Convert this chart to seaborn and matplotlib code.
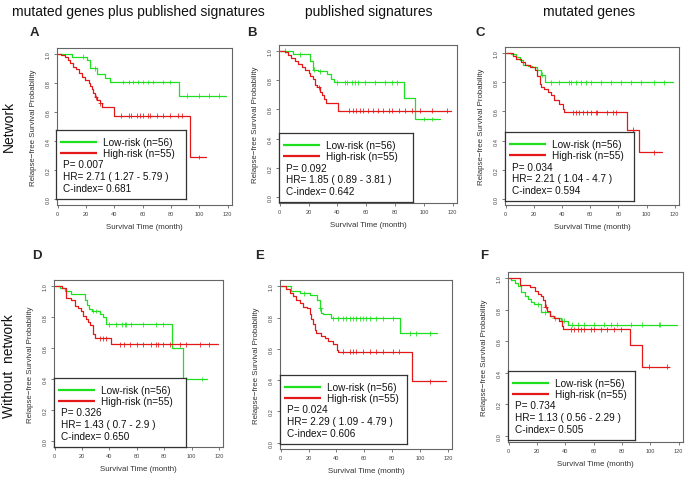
import numpy as np
import pandas as pd
import matplotlib
matplotlib.use("Agg")
import matplotlib.pyplot as plt
import seaborn as sns

sns.set_theme(style="white")
plt.rcParams["font.family"] = ["Liberation Sans", "DejaVu Sans"]

# ---- data (event times in months, survival after each event) ----
A_LOW_TIME = [10, 21, 22.5, 27.6, 33.5, 37, 85.6]
A_LOW_SURV = [0.98, 0.96, 0.90, 0.86, 0.835, 0.806, 0.712]
A_LOW_CENS = [18, 26, 46, 50, 53, 57, 60, 64, 67, 74, 79, 91, 100, 107, 114]
A_LOW_END = 119
A_HIGH_TIME = [2, 5, 7, 9, 11, 13, 15, 17, 19, 22, 23, 24, 25, 26.5, 28, 30, 31, 40, 93.6]
A_HIGH_SURV = [0.99, 0.975, 0.96, 0.94, 0.91, 0.895, 0.87, 0.84, 0.82, 0.80, 0.78, 0.76, 0.73,
               0.70, 0.68, 0.66, 0.635, 0.575, 0.29]
A_HIGH_CENS = [27, 30, 45, 50, 52, 56, 58, 60, 64, 65, 70, 74, 79, 85, 88, 100]
A_HIGH_END = 105

B_LOW_TIME = [9, 21, 23, 26.5, 33, 35.4, 37.8, 86.2, 94]
B_LOW_SURV = [0.977, 0.93, 0.87, 0.86, 0.84, 0.81, 0.786, 0.675, 0.534]
B_LOW_CENS = [4, 14, 24, 28, 40, 45, 47, 50, 52, 54, 59, 66, 73, 78, 81.5, 100, 106]
B_LOW_END = 111.5
B_HIGH_TIME = [3.5, 6, 8, 10.6, 13, 15.4, 17.7, 20, 21, 23, 24.8, 26, 28, 29, 30.7, 32, 40.6]
B_HIGH_SURV = [0.99, 0.975, 0.95, 0.93, 0.91, 0.89, 0.87, 0.85, 0.83, 0.81, 0.77, 0.75, 0.72,
               0.70, 0.67, 0.645, 0.59]
B_HIGH_CENS = [27, 48, 51, 53, 55.5, 58, 61, 65, 68.5, 72, 75.6, 78, 82.7, 87, 92, 97, 106, 116]
B_HIGH_END = 119

C_LOW_TIME = [4, 7, 10, 12, 16, 19, 22.4, 24.8, 28]
C_LOW_SURV = [0.99, 0.97, 0.95, 0.92, 0.91, 0.90, 0.88, 0.85, 0.80]
C_LOW_CENS = [26, 32, 38, 45, 46.5, 50, 53.5, 57, 60.6, 67.7, 74.7, 81.8, 88.8, 96, 105, 112]
C_LOW_END = 119
C_HIGH_TIME = [5, 7.5, 11, 13.4, 17, 20.5, 22.4, 24, 25.2, 27, 30, 31.8, 34.6, 37.5, 40.5, 41.7,
               85.8, 94.3]
C_HIGH_SURV = [0.98, 0.96, 0.94, 0.92, 0.90, 0.88, 0.84, 0.79, 0.77, 0.75, 0.73, 0.71, 0.68, 0.65,
               0.615, 0.595, 0.476, 0.32]
C_HIGH_CENS = [47.6, 50, 52, 54.7, 58, 60.6, 64, 65, 72, 76, 78, 90, 105]
C_HIGH_END = 111

D_LOW_TIME = [3.7, 7.3, 12, 22, 23.7, 25, 27.5, 33, 35.4, 37.8, 85.9, 94]
D_LOW_SURV = [0.99, 0.97, 0.95, 0.91, 0.88, 0.855, 0.84, 0.82, 0.80, 0.753, 0.60, 0.40]
D_LOW_CENS = [28, 30, 40, 45, 49, 51.2, 52.4, 56, 64.6, 74.4, 79.3, 96, 108]
D_LOW_END = 111.5
D_HIGH_TIME = [5, 8.5, 11.7, 14.6, 17, 19, 20.7, 22.7, 24.4, 26, 28, 29.3, 41.5]
D_HIGH_SURV = [0.99, 0.923, 0.91, 0.87, 0.86, 0.84, 0.81, 0.79, 0.77, 0.75, 0.69, 0.664, 0.625]
D_HIGH_CENS = [33, 35.4, 37.8, 47.6, 51, 55, 60, 64.6, 70.7, 74.4, 75.6, 79.3, 84, 91.5, 96, 106, 113]
D_HIGH_END = 119.5

E_LOW_TIME = [7.6, 13.6, 20.8, 26, 28, 29.2, 30.4, 36.3, 85.8]
E_LOW_SURV = [0.968, 0.955, 0.943, 0.911, 0.86, 0.83, 0.82, 0.794, 0.699]
E_LOW_CENS = [17, 28.5, 37.5, 41, 44.7, 47, 49.5, 52, 54, 56.7, 59, 61, 64, 68.6, 73.4, 80.6,
              92.5, 97, 107]
E_LOW_END = 112
E_HIGH_TIME = [4, 6.5, 8.8, 11, 13.6, 16, 19, 20.8, 22, 23.2, 24.4, 25.6, 29, 31.5, 34, 37.5,
               40.4, 41.1, 94.2]
E_HIGH_SURV = [0.98, 0.96, 0.94, 0.91, 0.89, 0.87, 0.86, 0.82, 0.79, 0.76, 0.72, 0.703, 0.68,
               0.67, 0.65, 0.63, 0.59, 0.583, 0.392]
E_HIGH_CENS = [44.7, 49.5, 52, 54.3, 59, 64, 68.6, 73.4, 80.6, 85.3, 107]
E_HIGH_END = 119

F_LOW_TIME = [1.9, 4.2, 6.5, 8.9, 11.2, 13.6, 15.9, 18.2, 22.5, 28.8, 32.3, 37, 41.6]
F_LOW_SURV = [0.99, 0.97, 0.95, 0.91, 0.89, 0.87, 0.85, 0.835, 0.784, 0.76, 0.745, 0.73, 0.705]
F_LOW_CENS = [20.6, 25.3, 32.5, 37.5, 39.3, 45, 48.7, 53.3, 60.4, 67.4, 72, 76.7, 86, 94.3, 106, 107]
F_LOW_END = 118.8
F_HIGH_TIME = [7.7, 14.7, 18.7, 20.6, 22.9, 24, 25.3, 27, 28.8, 32.3, 35.8, 37.4, 38.1, 85.4, 93.8]
F_HIGH_SURV = [0.96, 0.945, 0.92, 0.90, 0.89, 0.86, 0.82, 0.79, 0.76, 0.75, 0.73, 0.70, 0.676,
               0.578, 0.439]
F_HIGH_CENS = [26, 44, 46.3, 48.7, 51, 53.3, 58, 60.4, 65, 69.7, 74.4, 79, 99, 112]
F_HIGH_END = 113

P_VALUES = ["0.007", "0.092", "0.034", "0.326", "0.024", "0.734"]
HR_TEXT = ["2.71 ( 1.27 - 5.79 )", "1.85 ( 0.89 - 3.81 )", "2.21 ( 1.04 - 4.7 )",
           "1.43 ( 0.7 - 2.9 )", "2.29 ( 1.09 - 4.79 )", "1.13 ( 0.56 - 2.29 )"]
C_INDEX = ["0.681", "0.642", "0.594", "0.650", "0.606", "0.505"]
PANEL_LETTERS = ["A", "B", "C", "D", "E", "F"]
COLUMN_TITLES = ["mutated genes plus published signatures", "published signatures", "mutated genes"]
ROW_TITLES = ["Network", "Without  network"]
GROUP_LABELS = ["Low-risk (n=56)", "High-risk (n=55)"]

PANELS = [
    (A_LOW_TIME, A_LOW_SURV, A_LOW_CENS, A_LOW_END, A_HIGH_TIME, A_HIGH_SURV, A_HIGH_CENS, A_HIGH_END),
    (B_LOW_TIME, B_LOW_SURV, B_LOW_CENS, B_LOW_END, B_HIGH_TIME, B_HIGH_SURV, B_HIGH_CENS, B_HIGH_END),
    (C_LOW_TIME, C_LOW_SURV, C_LOW_CENS, C_LOW_END, C_HIGH_TIME, C_HIGH_SURV, C_HIGH_CENS, C_HIGH_END),
    (D_LOW_TIME, D_LOW_SURV, D_LOW_CENS, D_LOW_END, D_HIGH_TIME, D_HIGH_SURV, D_HIGH_CENS, D_HIGH_END),
    (E_LOW_TIME, E_LOW_SURV, E_LOW_CENS, E_LOW_END, E_HIGH_TIME, E_HIGH_SURV, E_HIGH_CENS, E_HIGH_END),
    (F_LOW_TIME, F_LOW_SURV, F_LOW_CENS, F_LOW_END, F_HIGH_TIME, F_HIGH_SURV, F_HIGH_CENS, F_HIGH_END),
]

# ---- layout (figure pixels) ----
W, H = 688, 485
AXES_PX = [  # left, right, top, bottom
    (57, 232, 49, 206), (279, 457, 46, 204), (505, 679, 48, 206),
    (54, 223, 281, 448), (280, 452, 281, 450), (508, 683, 273, 443),
]
LEGEND_PX = [  # left, top, width
    (56, 131, 130), (279, 134, 134), (505, 133, 129),
    (54, 379, 132), (280, 376, 127), (508, 372, 127),
]
LETTER_PX = [(34.5, 32.5), (251.5, 32.5), (480.5, 32.5), (36.5, 256), (260, 256), (484, 256)]
PALETTE = {"low": "#1ee01e", "high": "#e31919"}


def frac_rect(l, r, t, b):
    return [l / W, 1 - b / H, (r - l) / W, (b - t) / H]


def km_frame(times, surv, end, group):
    x = [0] + list(times) + [end]
    y = [1.0] + list(surv) + [surv[-1]]
    return pd.DataFrame({"time": x, "surv": y, "group": group})


def cens_frame(times, surv, cens, group):
    levels = np.array([1.0] + list(surv))
    idx = np.searchsorted(np.array(times), np.array(cens), side="right")
    return pd.DataFrame({"time": cens, "surv": levels[idx], "group": group})


fig = plt.figure(figsize=(W / 100, H / 100), dpi=100)

for i, panel in enumerate(PANELS):
    lt, ls, lc, le, ht, hs, hc, he = panel
    ax = fig.add_axes(frac_rect(*AXES_PX[i]))
    curves = pd.concat([km_frame(lt, ls, le, "low"), km_frame(ht, hs, he, "high")])
    marks = pd.concat([cens_frame(lt, ls, lc, "low"), cens_frame(ht, hs, hc, "high")])
    sns.lineplot(data=curves, x="time", y="surv", hue="group", palette=PALETTE,
                 estimator=None, drawstyle="steps-post", linewidth=0.9, legend=False, ax=ax)
    sns.scatterplot(data=marks, x="time", y="surv", hue="group", palette=PALETTE,
                    marker="+", s=12, linewidth=0.55, legend=False, ax=ax)
    ax.set_xlim(-0.5, 123)
    ax.set_ylim(-0.04, 1.04)
    ax.set_xticks(np.arange(0, 121, 20))
    ax.set_yticks(np.arange(0, 1.01, 0.2))
    ax.set_yticklabels([f"{v:.1f}" for v in np.arange(0, 1.01, 0.2)])
    ax.tick_params(direction="out", length=2.5, width=0.5, labelsize=4.1, pad=2,
                   colors="#444444", left=True, bottom=True)
    ax.tick_params(axis="y", labelrotation=90)
    for lab in ax.get_yticklabels():
        lab.set_va("center")
    for sp in ax.spines.values():
        sp.set_color("#666666")
        sp.set_linewidth(0.8)
    ax.set_xlabel("Survival Time (month)", fontsize=5.7, labelpad=5, color="#333333")
    ax.set_ylabel("Relapse\u2212free Survival Probability", fontsize=5.7, labelpad=6, color="#333333")

    # legend box with stats
    lx, ly, lw = LEGEND_PX[i]
    lh = 69
    lax = fig.add_axes(frac_rect(lx, lx + lw, ly, ly + lh), zorder=5)
    lax.set_xlim(0, lw)
    lax.set_ylim(lh, 0)
    lax.set_xticks([])
    lax.set_yticks([])
    lax.set_facecolor("white")
    for sp in lax.spines.values():
        sp.set_color("#333333")
        sp.set_linewidth(0.9)
    for row, (key, label) in enumerate(zip(["low", "high"], GROUP_LABELS)):
        yy = 12 + row * 11.3
        lax.plot([4, 41], [yy, yy], color=PALETTE[key], lw=1.6, solid_capstyle="butt")
        lax.text(46.7, yy, label, fontsize=7.2, va="center", ha="left", color="#111111")
    stats = [f"P= {P_VALUES[i]}", f"HR= {HR_TEXT[i]}", f"C-index= {C_INDEX[i]}"]
    for row, s in enumerate(stats):
        lax.text(7.3, 34.5 + row * 11.8, s, fontsize=7.2, va="center", ha="left", color="#111111")

    lx_, ly_ = LETTER_PX[i]
    fig.text(lx_ / W, 1 - ly_ / H, PANEL_LETTERS[i], fontsize=9.5, fontweight="bold",
             ha="center", va="center")

for j, title in enumerate(COLUMN_TITLES):
    cx = [138, 369, 589][j]
    fig.text(cx / W, 1 - 12 / H, title, fontsize=10, ha="center", va="center", color="#111111")

for k, title in enumerate(ROW_TITLES):
    cy = [126, 366][k]
    fig.text(9 / W, 1 - cy / H, title, fontsize=10, rotation=90, ha="center", va="center",
             color="#111111")

fig.savefig("out.png", dpi=100)
